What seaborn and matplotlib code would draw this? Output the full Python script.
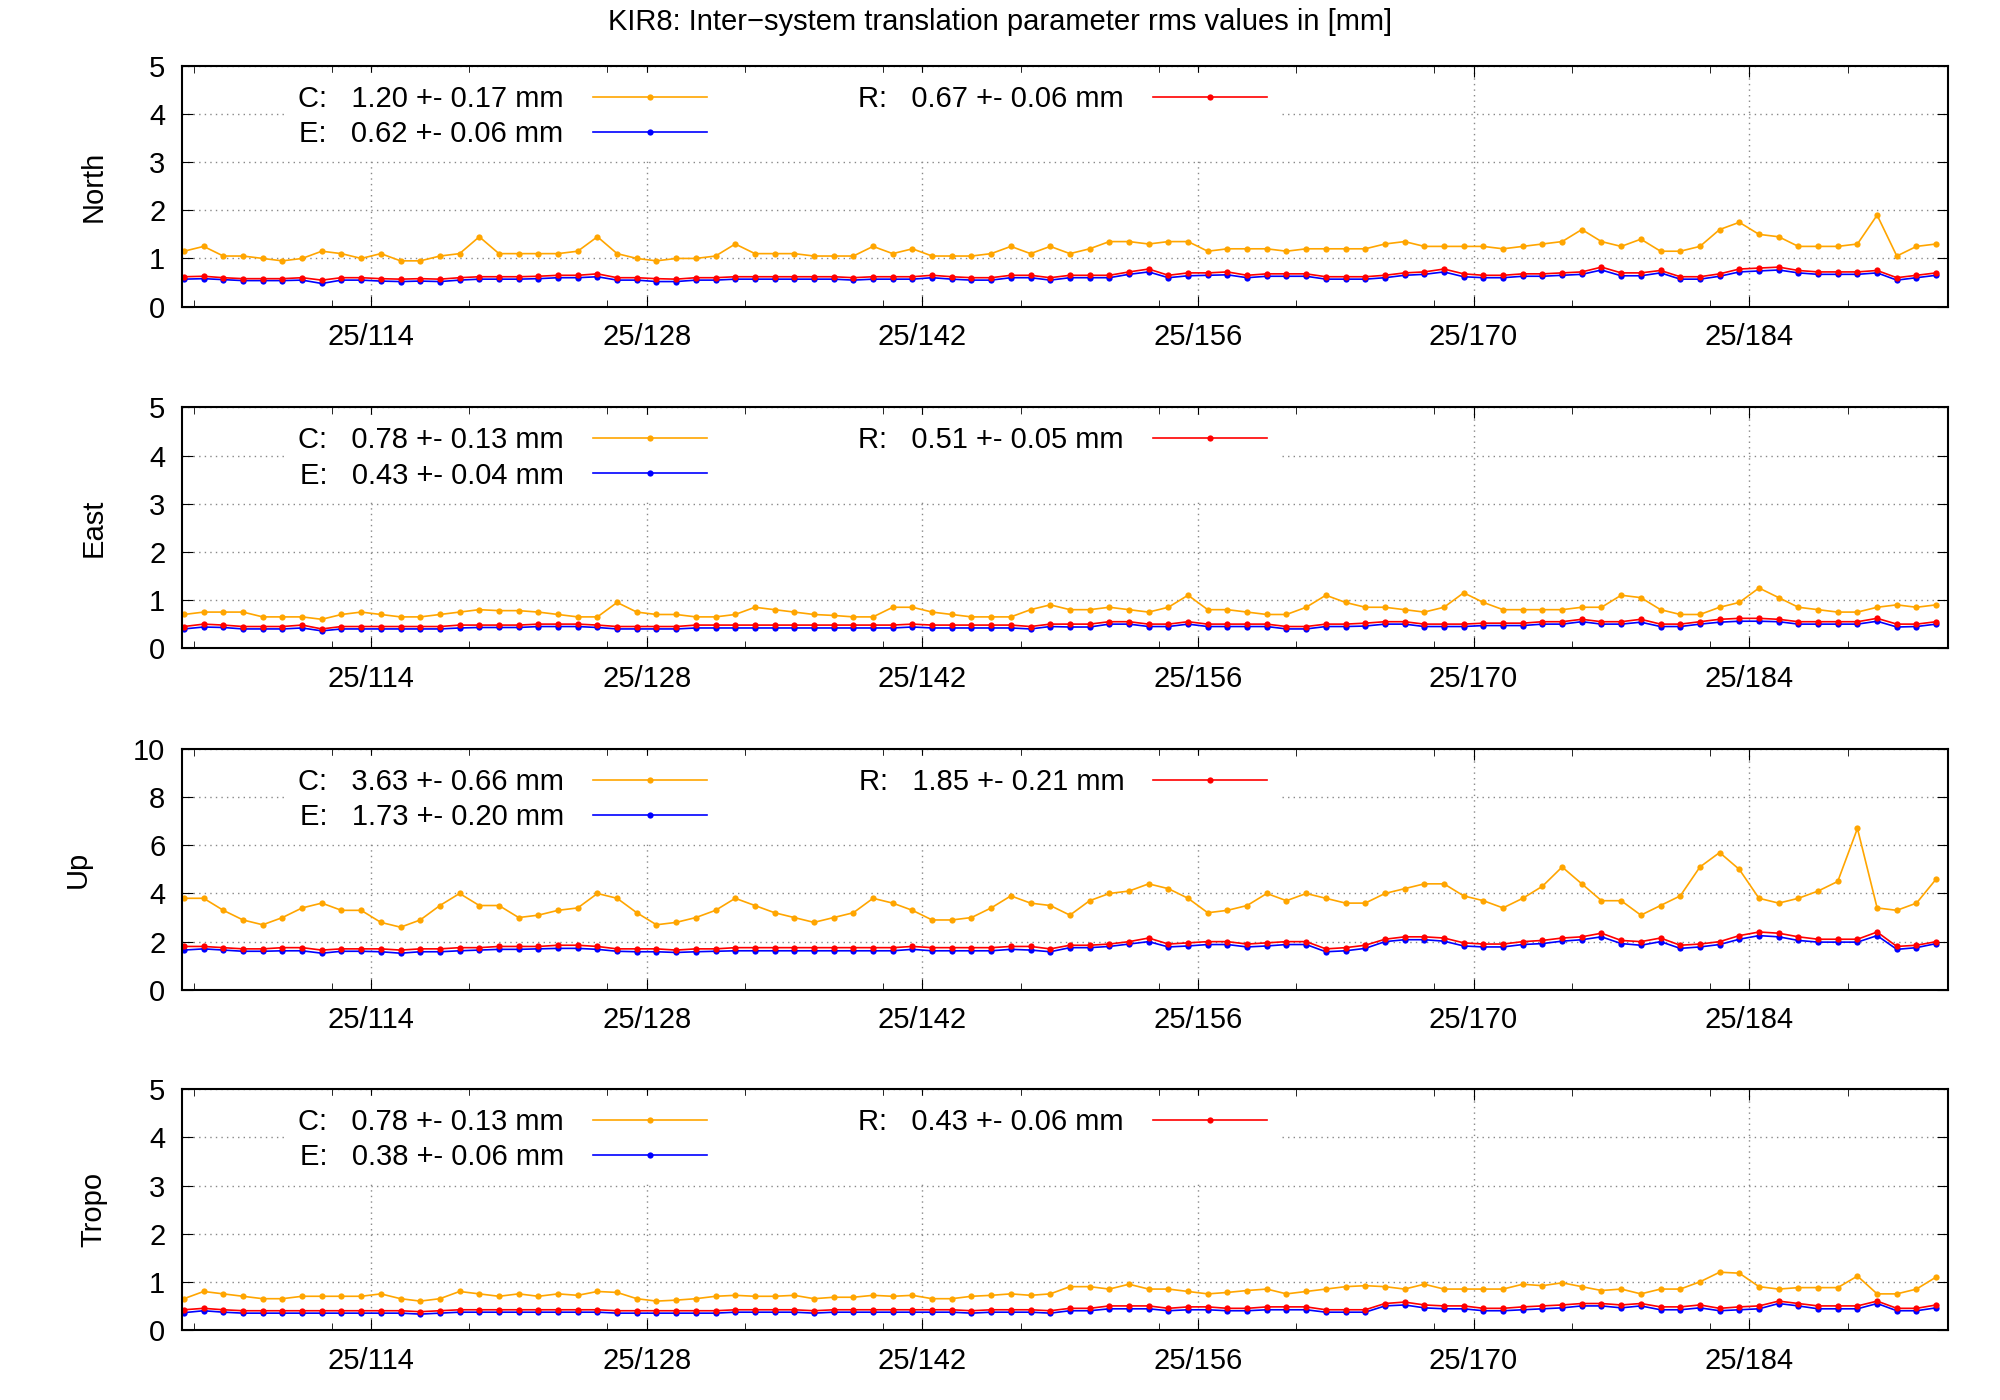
import numpy as np
import pandas as pd
import seaborn as sns
import matplotlib.pyplot as plt
from matplotlib.ticker import MultipleLocator

# day of year 2025 (noon points), 90 daily values
days = [104.5 + i for i in range(90)]
tick_days = [114, 128, 142, 156, 170, 184]
tick_labels = ["25/114", "25/128", "25/142", "25/156", "25/170", "25/184"]

north_c = [1.15, 1.25, 1.05, 1.05, 1.0, 0.95, 1.0, 1.15, 1.1, 1.0,
           1.1, 0.95, 0.95, 1.05, 1.1, 1.45, 1.1, 1.1, 1.1, 1.1,
           1.15, 1.45, 1.1, 1.0, 0.95, 1.0, 1.0, 1.05, 1.3, 1.1,
           1.1, 1.1, 1.05, 1.05, 1.05, 1.25, 1.1, 1.2, 1.05, 1.05,
           1.05, 1.1, 1.25, 1.1, 1.25, 1.1, 1.2, 1.35, 1.35, 1.3,
           1.35, 1.35, 1.15, 1.2, 1.2, 1.2, 1.15, 1.2, 1.2, 1.2,
           1.2, 1.3, 1.35, 1.25, 1.25, 1.25, 1.25, 1.2, 1.25, 1.3,
           1.35, 1.6, 1.35, 1.25, 1.4, 1.15, 1.15, 1.25, 1.6, 1.75,
           1.5, 1.45, 1.25, 1.25, 1.25, 1.3, 1.9, 1.05, 1.25, 1.3]
north_r = [0.62, 0.63, 0.6, 0.58, 0.58, 0.58, 0.6, 0.55, 0.6, 0.6,
           0.58, 0.57, 0.58, 0.57, 0.6, 0.62, 0.62, 0.62, 0.63, 0.65,
           0.65, 0.68, 0.6, 0.6, 0.58, 0.57, 0.6, 0.6, 0.62, 0.62,
           0.62, 0.62, 0.62, 0.62, 0.6, 0.62, 0.62, 0.62, 0.65, 0.62,
           0.6, 0.6, 0.65, 0.65, 0.6, 0.65, 0.65, 0.65, 0.72, 0.78,
           0.65, 0.7, 0.7, 0.72, 0.65, 0.68, 0.68, 0.68, 0.62, 0.62,
           0.62, 0.65, 0.7, 0.72, 0.78, 0.68, 0.65, 0.65, 0.68, 0.68,
           0.7, 0.72, 0.82, 0.7, 0.7, 0.75, 0.62, 0.62, 0.68, 0.78,
           0.8, 0.82, 0.75, 0.72, 0.72, 0.72, 0.75, 0.6, 0.65, 0.7]
north_e = [0.57, 0.58, 0.56, 0.54, 0.54, 0.54, 0.55, 0.48, 0.55, 0.55,
           0.53, 0.52, 0.53, 0.52, 0.55, 0.57, 0.57, 0.57, 0.58, 0.6,
           0.6, 0.62, 0.55, 0.55, 0.52, 0.52, 0.55, 0.55, 0.57, 0.57,
           0.57, 0.57, 0.57, 0.57, 0.55, 0.57, 0.57, 0.57, 0.6, 0.57,
           0.55, 0.55, 0.6, 0.6, 0.55, 0.6, 0.6, 0.6, 0.67, 0.72,
           0.6, 0.64, 0.65, 0.66, 0.6, 0.63, 0.63, 0.63, 0.57, 0.57,
           0.57, 0.6, 0.65, 0.67, 0.72, 0.62, 0.6, 0.6, 0.63, 0.63,
           0.65, 0.67, 0.76, 0.64, 0.64, 0.7, 0.57, 0.57, 0.63, 0.72,
           0.74, 0.76, 0.7, 0.67, 0.67, 0.67, 0.7, 0.55, 0.6, 0.65]

east_c = [0.7, 0.75, 0.75, 0.75, 0.65, 0.65, 0.65, 0.6, 0.7, 0.75,
          0.7, 0.65, 0.65, 0.7, 0.75, 0.8, 0.78, 0.78, 0.75, 0.7,
          0.65, 0.65, 0.95, 0.75, 0.7, 0.7, 0.65, 0.65, 0.7, 0.85,
          0.8, 0.75, 0.7, 0.68, 0.65, 0.65, 0.85, 0.85, 0.75, 0.7,
          0.65, 0.65, 0.65, 0.8, 0.9, 0.8, 0.8, 0.85, 0.8, 0.75,
          0.85, 1.1, 0.8, 0.8, 0.75, 0.7, 0.7, 0.85, 1.1, 0.95,
          0.85, 0.85, 0.8, 0.75, 0.85, 1.15, 0.95, 0.8, 0.8, 0.8,
          0.8, 0.85, 0.85, 1.1, 1.05, 0.8, 0.7, 0.7, 0.85, 0.95,
          1.25, 1.05, 0.85, 0.8, 0.75, 0.75, 0.85, 0.9, 0.85, 0.9]
east_r = [0.45, 0.5, 0.48, 0.45, 0.45, 0.45, 0.48, 0.4, 0.45, 0.45,
          0.45, 0.45, 0.45, 0.45, 0.48, 0.48, 0.48, 0.48, 0.5, 0.5,
          0.5, 0.48, 0.45, 0.45, 0.45, 0.45, 0.48, 0.48, 0.48, 0.48,
          0.48, 0.48, 0.48, 0.48, 0.48, 0.48, 0.48, 0.5, 0.48, 0.48,
          0.48, 0.48, 0.48, 0.45, 0.5, 0.5, 0.5, 0.55, 0.55, 0.5,
          0.5, 0.55, 0.5, 0.5, 0.5, 0.5, 0.45, 0.45, 0.5, 0.5,
          0.52, 0.55, 0.55, 0.5, 0.5, 0.5, 0.52, 0.52, 0.52, 0.55,
          0.55, 0.6, 0.55, 0.55, 0.6, 0.5, 0.5, 0.55, 0.6, 0.62,
          0.62, 0.6, 0.55, 0.55, 0.55, 0.55, 0.62, 0.5, 0.5, 0.55]
east_e = [0.4, 0.44, 0.43, 0.4, 0.4, 0.4, 0.42, 0.36, 0.4, 0.4,
          0.4, 0.4, 0.4, 0.4, 0.42, 0.43, 0.43, 0.43, 0.45, 0.45,
          0.45, 0.43, 0.4, 0.4, 0.4, 0.4, 0.42, 0.42, 0.42, 0.42,
          0.42, 0.42, 0.42, 0.42, 0.42, 0.42, 0.42, 0.44, 0.42, 0.42,
          0.42, 0.42, 0.42, 0.4, 0.45, 0.44, 0.44, 0.5, 0.5, 0.45,
          0.45, 0.5, 0.45, 0.45, 0.45, 0.45, 0.4, 0.4, 0.45, 0.45,
          0.46, 0.5, 0.5, 0.45, 0.45, 0.45, 0.47, 0.47, 0.47, 0.5,
          0.5, 0.55, 0.5, 0.5, 0.54, 0.45, 0.45, 0.5, 0.54, 0.56,
          0.56, 0.55, 0.5, 0.5, 0.5, 0.5, 0.56, 0.44, 0.45, 0.5]

up_c = [3.8, 3.8, 3.3, 2.9, 2.7, 3.0, 3.4, 3.6, 3.3, 3.3,
        2.8, 2.6, 2.9, 3.5, 4.0, 3.5, 3.5, 3.0, 3.1, 3.3,
        3.4, 4.0, 3.8, 3.2, 2.7, 2.8, 3.0, 3.3, 3.8, 3.5,
        3.2, 3.0, 2.8, 3.0, 3.2, 3.8, 3.6, 3.3, 2.9, 2.9,
        3.0, 3.4, 3.9, 3.6, 3.5, 3.1, 3.7, 4.0, 4.1, 4.4,
        4.2, 3.8, 3.2, 3.3, 3.5, 4.0, 3.7, 4.0, 3.8, 3.6,
        3.6, 4.0, 4.2, 4.4, 4.4, 3.9, 3.7, 3.4, 3.8, 4.3,
        5.1, 4.4, 3.7, 3.7, 3.1, 3.5, 3.9, 5.1, 5.7, 5.0,
        3.8, 3.6, 3.8, 4.1, 4.5, 6.7, 3.4, 3.3, 3.6, 4.6]
up_r = [1.8, 1.8, 1.75, 1.7, 1.7, 1.75, 1.75, 1.65, 1.7, 1.7,
        1.7, 1.65, 1.7, 1.7, 1.75, 1.75, 1.8, 1.8, 1.8, 1.85,
        1.85, 1.8, 1.7, 1.7, 1.7, 1.65, 1.7, 1.7, 1.75, 1.75,
        1.75, 1.75, 1.75, 1.75, 1.75, 1.75, 1.75, 1.8, 1.75, 1.75,
        1.75, 1.75, 1.8, 1.8, 1.7, 1.85, 1.85, 1.9, 2.0, 2.15,
        1.9, 1.95, 2.0, 2.0, 1.9, 1.95, 2.0, 2.0, 1.7, 1.75,
        1.85, 2.1, 2.2, 2.2, 2.15, 1.95, 1.9, 1.9, 2.0, 2.05,
        2.15, 2.2, 2.35, 2.05, 2.0, 2.15, 1.85, 1.9, 2.0, 2.25,
        2.4, 2.35, 2.2, 2.1, 2.1, 2.1, 2.4, 1.8, 1.85, 2.0]
up_e = [1.65, 1.7, 1.65, 1.6, 1.6, 1.62, 1.62, 1.52, 1.6, 1.6,
        1.58, 1.52, 1.58, 1.58, 1.62, 1.65, 1.68, 1.68, 1.7, 1.72,
        1.72, 1.68, 1.6, 1.58, 1.58, 1.55, 1.58, 1.6, 1.62, 1.62,
        1.62, 1.62, 1.62, 1.62, 1.62, 1.62, 1.62, 1.68, 1.62, 1.62,
        1.62, 1.62, 1.68, 1.65, 1.58, 1.75, 1.75, 1.8, 1.9, 2.0,
        1.78, 1.82, 1.88, 1.88, 1.78, 1.82, 1.88, 1.88, 1.58, 1.62,
        1.72, 2.0, 2.08, 2.08, 2.02, 1.82, 1.78, 1.78, 1.88, 1.92,
        2.02, 2.08, 2.2, 1.92, 1.85, 2.0, 1.72, 1.78, 1.88, 2.1,
        2.25, 2.2, 2.05, 1.98, 1.98, 1.98, 2.25, 1.68, 1.75, 1.92]

tropo_c = [0.65, 0.8, 0.75, 0.7, 0.65, 0.65, 0.7, 0.7, 0.7, 0.7,
           0.75, 0.65, 0.6, 0.65, 0.8, 0.75, 0.7, 0.75, 0.7, 0.75,
           0.72, 0.8, 0.78, 0.65, 0.6, 0.62, 0.65, 0.7, 0.72, 0.7,
           0.7, 0.72, 0.65, 0.68, 0.68, 0.72, 0.7, 0.72, 0.65, 0.65,
           0.7, 0.72, 0.75, 0.72, 0.75, 0.9, 0.9, 0.85, 0.95, 0.85,
           0.85, 0.8, 0.75, 0.78, 0.82, 0.85, 0.75, 0.8, 0.85, 0.9,
           0.92, 0.9, 0.85, 0.95, 0.85, 0.85, 0.85, 0.85, 0.95, 0.92,
           0.98, 0.9, 0.82, 0.85, 0.75, 0.85, 0.85, 1.0, 1.2, 1.18,
           0.9, 0.85, 0.88, 0.88, 0.88, 1.12, 0.75, 0.75, 0.85, 1.1]
tropo_r = [0.42, 0.45, 0.42, 0.4, 0.4, 0.4, 0.4, 0.4, 0.4, 0.4,
           0.4, 0.4, 0.38, 0.4, 0.42, 0.42, 0.42, 0.42, 0.42, 0.42,
           0.42, 0.42, 0.4, 0.4, 0.4, 0.4, 0.4, 0.4, 0.42, 0.42,
           0.42, 0.42, 0.4, 0.42, 0.42, 0.42, 0.42, 0.42, 0.42, 0.42,
           0.4, 0.42, 0.42, 0.42, 0.4, 0.45, 0.45, 0.5, 0.5, 0.5,
           0.45, 0.48, 0.48, 0.45, 0.45, 0.48, 0.48, 0.48, 0.42, 0.42,
           0.42, 0.55, 0.58, 0.52, 0.5, 0.5, 0.45, 0.45, 0.48, 0.5,
           0.52, 0.55, 0.55, 0.52, 0.55, 0.48, 0.48, 0.52, 0.45, 0.48,
           0.5, 0.6, 0.55, 0.5, 0.5, 0.5, 0.6, 0.45, 0.45, 0.52]
tropo_e = [0.36, 0.4, 0.37, 0.35, 0.35, 0.35, 0.35, 0.35, 0.35, 0.35,
           0.35, 0.35, 0.33, 0.35, 0.37, 0.37, 0.37, 0.37, 0.37, 0.37,
           0.37, 0.37, 0.35, 0.35, 0.35, 0.35, 0.35, 0.35, 0.37, 0.37,
           0.37, 0.37, 0.35, 0.37, 0.37, 0.37, 0.37, 0.37, 0.37, 0.37,
           0.35, 0.37, 0.37, 0.37, 0.35, 0.4, 0.4, 0.44, 0.44, 0.44,
           0.4, 0.42, 0.42, 0.4, 0.4, 0.42, 0.42, 0.42, 0.37, 0.37,
           0.37, 0.5, 0.52, 0.46, 0.44, 0.44, 0.4, 0.4, 0.42, 0.44,
           0.46, 0.5, 0.5, 0.46, 0.5, 0.42, 0.42, 0.46, 0.4, 0.42,
           0.44, 0.55, 0.5, 0.44, 0.44, 0.44, 0.55, 0.4, 0.4, 0.46]

panels = [
    ("North", north_c, north_e, north_r, 5, ["1.20 +- 0.17", "0.62 +- 0.06", "0.67 +- 0.06"]),
    ("East", east_c, east_e, east_r, 5, ["0.78 +- 0.13", "0.43 +- 0.04", "0.51 +- 0.05"]),
    ("Up", up_c, up_e, up_r, 10, ["3.63 +- 0.66", "1.73 +- 0.20", "1.85 +- 0.21"]),
    ("Tropo", tropo_c, tropo_e, tropo_r, 5, ["0.78 +- 0.13", "0.38 +- 0.06", "0.43 +- 0.06"]),
]
colors = {"C": "#ffa500", "E": "#0000ff", "R": "#ff0000"}


def main():
    plt.rcParams["font.family"] = "Liberation Sans"
    fig = plt.figure(figsize=(20, 14), dpi=100)
    tops = [0.953, 0.709, 0.465, 0.222]
    h = 0.172
    fig.suptitle("KIR8: Inter\u2212system translation parameter rms values in [mm]",
                 fontsize=21, y=0.994)

    for (name, c, e, r, ymax, stats), top in zip(panels, tops):
        ax = fig.add_axes([0.091, top - h, 0.883, h])
        df = pd.DataFrame({"day": days * 3, "val": c + e + r,
                           "sys": ["C"] * 90 + ["E"] * 90 + ["R"] * 90})
        labels = {"C": f"C:   {stats[0]} mm", "E": f"E:   {stats[1]} mm",
                  "R": f"R:   {stats[2]} mm"}
        df["sys"] = df["sys"].map(labels)
        pal = {labels[k]: colors[k] for k in colors}
        sns.lineplot(data=df, x="day", y="val", hue="sys", palette=pal, ax=ax,
                     marker="o", markersize=4.5, markeredgewidth=0, linewidth=1.2)
        ax.set_xlim(104.4, 194.1)
        ax.set_ylim(0, ymax)
        ax.yaxis.set_major_locator(MultipleLocator(ymax / 5))
        ax.set_xticks(tick_days)
        ax.set_xticklabels(tick_labels)
        ax.xaxis.set_minor_locator(MultipleLocator(7))
        ax.tick_params(axis="both", which="major", labelsize=21, direction="in", length=8,
                       top=True, right=True, pad=12)
        ax.tick_params(axis="x", which="minor", direction="in", length=5, top=True)
        ax.grid(True, which="major", linestyle=(0, (1, 3)), color="#888888", linewidth=1)
        ax.set_xlabel("")
        ax.set_ylabel(name, fontsize=21, labelpad=30)
        for s in ax.spines.values():
            s.set_linewidth(1.5)
        leg = ax.legend(ncol=2, loc="upper left", bbox_to_anchor=(0.055, 1.0),
                        markerfirst=False, frameon=True, fontsize=21,
                        handlelength=3.9, handletextpad=1.0, columnspacing=5.2,
                        labelspacing=0.25, borderaxespad=0.25, fancybox=False)
        leg.get_frame().set_edgecolor("white")
        leg.get_frame().set_alpha(1.0)

    plt.savefig("out.png", dpi=100)


if __name__ == "__main__":
    main()
